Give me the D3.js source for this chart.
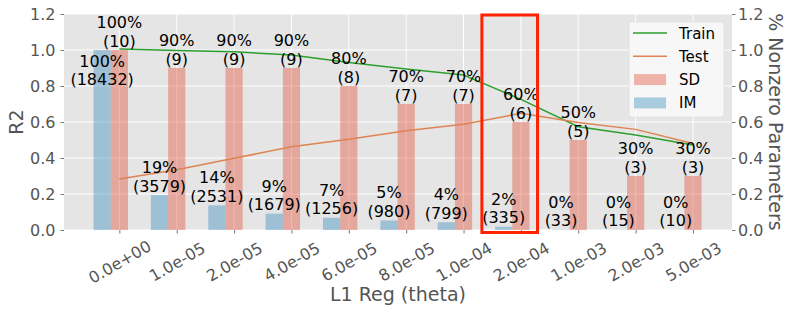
<!DOCTYPE html>
<html>
<head>
<meta charset="utf-8">
<script src="https://cdn.jsdelivr.net/npm/d3@7"></script>
<style>
  body { margin: 0; background: #fff; }
  text { font-family: "DejaVu Sans", sans-serif; }
</style>
</head>
<body>
<div id="chart"></div>
<script>
// categories (L1 regularisation strength)
var thetaLabels = ["0.0e+00", "1.0e-05", "2.0e-05", "4.0e-05", "6.0e-05", "8.0e-05",
                   "1.0e-04", "2.0e-04", "1.0e-03", "2.0e-03", "5.0e-03"];

// R2 curves
var trainR2 = [1.005, 0.997, 0.990, 0.972, 0.931, 0.894, 0.861, 0.726, 0.574, 0.528, 0.472];
var testR2  = [0.283, 0.335, 0.398, 0.463, 0.504, 0.552, 0.587, 0.648, 0.597, 0.559, 0.481];

// fraction of nonzero parameters
var sdFrac = [1.0, 0.9, 0.9, 0.9, 0.8, 0.7, 0.7, 0.6, 0.5, 0.3, 0.3];
var imFrac = [1.0, 0.194, 0.137, 0.091, 0.068, 0.053, 0.043, 0.018, 0.0018, 0.0008, 0.0005];

// bar labels
var sdPct   = ["100%", "90%", "90%", "90%", "80%", "70%", "70%", "60%", "50%", "30%", "30%"];
var sdCount = ["(10)", "(9)", "(9)", "(9)", "(8)", "(7)", "(7)", "(6)", "(5)", "(3)", "(3)"];
var imPct   = ["100%", "19%", "14%", "9%", "7%", "5%", "4%", "2%", "0%", "0%", "0%"];
var imCount = ["(18432)", "(3579)", "(2531)", "(1679)", "(1256)", "(980)", "(799)", "(335)", "(33)", "(15)", "(10)"];

var yTicks = [0, 0.2, 0.4, 0.6, 0.8, 1.0, 1.2];

var svgWidth = 794, svgHeight = 315;
var margin = { top: 14, right: 62, bottom: 85, left: 64 };
var chartWidth = svgWidth - margin.left - margin.right;
var chartHeight = svgHeight - margin.top - margin.bottom;

var svg = d3.select("#chart").append("svg")
    .attr("width", svgWidth)
    .attr("height", svgHeight);

var g = svg.append("g")
    .attr("transform", `translate(${margin.left}, ${margin.top})`);

var xScale = d3.scaleLinear().domain([-0.965, 10.68]).range([0, chartWidth]);
var yScale = d3.scaleLinear().domain([0, 1.2]).range([chartHeight, 0]);
var barW = xScale(0.3) - xScale(0);
var idx = d3.range(thetaLabels.length);

// background + grid
g.append("rect")
    .attr("width", chartWidth).attr("height", chartHeight)
    .attr("fill", "#e5e5e5");

g.selectAll(".hgrid").data(yTicks).enter().append("line")
    .attr("x1", 0).attr("x2", chartWidth)
    .attr("y1", d => yScale(d)).attr("y2", d => yScale(d))
    .attr("stroke", "#fff").attr("stroke-width", 1);

g.selectAll(".vgrid").data(idx).enter().append("line")
    .attr("x1", d => xScale(d)).attr("x2", d => xScale(d))
    .attr("y1", 0).attr("y2", chartHeight)
    .attr("stroke", "#fff").attr("stroke-width", 1);

// axes
var xAxis = d3.axisBottom(xScale).tickValues(idx).tickFormat(i => thetaLabels[i])
    .tickSize(3.5).tickPadding(3.5);
var yAxisL = d3.axisLeft(yScale).tickValues(yTicks).tickFormat(d3.format(".1f"))
    .tickSize(3.5).tickPadding(5);
var yAxisR = d3.axisRight(yScale).tickValues(yTicks).tickFormat(d3.format(".1f"))
    .tickSize(3.5).tickPadding(2.5);

function styleAxis(sel) {
    sel.select(".domain").remove();
    sel.selectAll(".tick line").attr("stroke", "#555").attr("stroke-width", 0.8);
    sel.selectAll(".tick text").attr("fill", "#555").attr("font-size", "16px")
        .attr("font-family", "DejaVu Sans");
}

var gx = g.append("g").attr("transform", `translate(0, ${chartHeight})`).call(xAxis);
styleAxis(gx);
gx.selectAll(".tick text")
    .attr("y", 0).attr("dy", null)
    .attr("text-anchor", "middle")
    .attr("dominant-baseline", "central")
    .attr("transform", "translate(0, 32) rotate(-30)");

g.append("g").call(yAxisL).call(styleAxis);
g.append("g").attr("transform", `translate(${chartWidth}, 0)`).call(yAxisR).call(styleAxis);

// bars
g.selectAll(".im").data(idx).enter().append("rect")
    .attr("x", i => xScale(i - 0.3) - barW / 2)
    .attr("y", i => yScale(imFrac[i]))
    .attr("width", barW)
    .attr("height", i => chartHeight - yScale(imFrac[i]))
    .attr("fill", "#348abd").attr("fill-opacity", 0.4);

g.selectAll(".sd").data(idx).enter().append("rect")
    .attr("x", i => xScale(i) - barW / 2)
    .attr("y", i => yScale(sdFrac[i]))
    .attr("width", barW)
    .attr("height", i => chartHeight - yScale(sdFrac[i]))
    .attr("fill", "#e24a33").attr("fill-opacity", 0.4);

// lines
var line = d3.line().x((d, i) => xScale(i)).y(d => yScale(d));
g.append("path").datum(trainR2).attr("d", line)
    .attr("fill", "none").attr("stroke", "#2ca02c").attr("stroke-width", 1.5);
g.append("path").datum(testR2).attr("d", line)
    .attr("fill", "none").attr("stroke", "#dd8452").attr("stroke-width", 1.5);

// bar labels
function addLabels(vals, top, bottom, offset, cap) {
    var lab = g.append("g").selectAll("g").data(idx).enter().append("text")
        .attr("text-anchor", "middle")
        .attr("font-size", "16px")
        .attr("fill", "#000");
    lab.append("tspan")
        .attr("x", i => xScale(i + offset))
        .attr("y", i => yScale(Math.min(vals[i], cap)) - 3.5 - 18.5)
        .text(i => top[i]);
    lab.append("tspan")
        .attr("x", i => xScale(i + offset))
        .attr("y", i => yScale(Math.min(vals[i], cap)) - 3.5)
        .text(i => bottom[i]);
}
addLabels(sdFrac, sdPct, sdCount, 0, 2);
addLabels(imFrac, imPct, imCount, -0.3, 0.785);

// highlight box
g.append("rect")
    .attr("x", xScale(6.32)).attr("y", yScale(1.2) + 1)
    .attr("width", xScale(7.29) - xScale(6.32))
    .attr("height", yScale(0) - yScale(1.2) + 1.5)
    .attr("fill", "none").attr("stroke", "#ff2200").attr("stroke-width", 3);

// legend
var legend = g.append("g").attr("transform", `translate(${chartWidth - 103}, 8)`);
legend.append("rect")
    .attr("width", 95).attr("height", 95).attr("rx", 3)
    .attr("fill", "#f8f8f8").attr("fill-opacity", 0.9)
    .attr("stroke", "#e0e0e0").attr("stroke-width", 0.8);
var legendItems = [
    { name: "Train", type: "line", color: "#2ca02c" },
    { name: "Test", type: "line", color: "#dd8452" },
    { name: "SD", type: "bar", color: "#e24a33" },
    { name: "IM", type: "bar", color: "#348abd" }
];
legendItems.forEach(function (d, i) {
    var yy = 11 + i * 23.3;
    if (d.type === "line") {
        legend.append("line").attr("x1", 4).attr("x2", 38).attr("y1", yy).attr("y2", yy)
            .attr("stroke", d.color).attr("stroke-width", 1.5);
    } else {
        legend.append("rect").attr("x", 5).attr("y", yy - 5.5).attr("width", 32).attr("height", 11)
            .attr("fill", d.color).attr("fill-opacity", 0.4);
    }
    legend.append("text").attr("x", 50).attr("y", yy + 5.5)
        .attr("font-size", "15px").attr("fill", "#000").text(d.name);
});

// axis titles
svg.append("text")
    .attr("x", margin.left + chartWidth / 2).attr("y", 301)
    .attr("text-anchor", "middle").attr("font-size", "19px").attr("fill", "#555")
    .text("L1 Reg (theta)");

svg.append("text")
    .attr("transform", `translate(23, ${margin.top + chartHeight / 2}) rotate(-90)`)
    .attr("text-anchor", "middle").attr("font-size", "19px").attr("fill", "#555")
    .text("R2");

svg.append("text")
    .attr("transform", `translate(769, ${margin.top + chartHeight / 2}) rotate(90)`)
    .attr("text-anchor", "middle").attr("font-size", "19px").attr("fill", "#555")
    .text("% Nonzero Parameters");
</script>
</body>
</html>
